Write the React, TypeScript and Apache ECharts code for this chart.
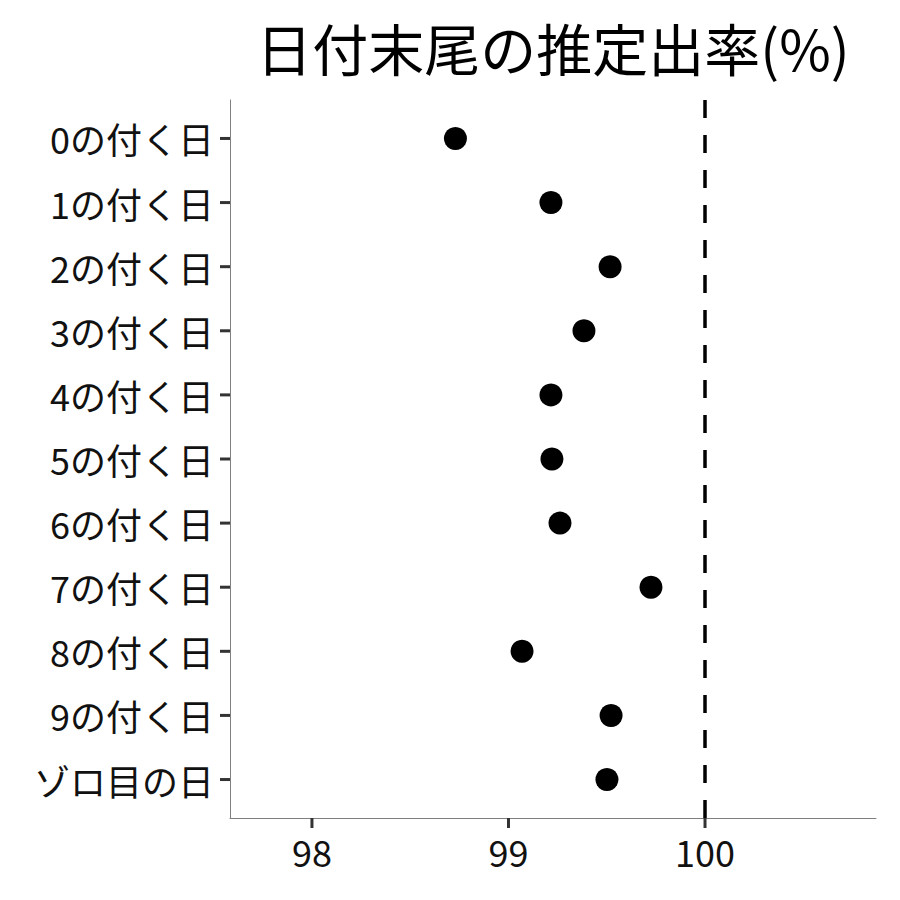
import React, { useEffect, useRef } from "react";
import * as echarts from "echarts";

const categories = [
  "0の付く日",
  "1の付く日",
  "2の付く日",
  "3の付く日",
  "4の付く日",
  "5の付く日",
  "6の付く日",
  "7の付く日",
  "8の付く日",
  "9の付く日",
  "ゾロ目の日",
];
const values = [98.73, 99.216, 99.517, 99.384, 99.216, 99.221, 99.262, 99.725, 99.069, 99.522, 99.501];
const xTicks = [98, 99, 100];
const refValue = 100;
const titleText = "日付末尾の推定出率(%)";

const FONT = '"Noto Sans CJK JP", "Noto Sans", sans-serif';
const X_MIN = 97.583;
const X_MAX = 100.87;
const TICK_LEN = 10;
const TICK_STYLE = { stroke: "#333333", lineWidth: 3 };

export default function App() {
  const ref = useRef<HTMLDivElement>(null);
  useEffect(() => {
    document.body.style.margin = "0";
    const chart = echarts.init(ref.current!, null, { renderer: "svg" });
    const n = categories.length;
    const Y_MIN = -0.6;
    const Y_MAX = n - 1 + 0.6;
    // position of category i, counted from the top of the panel
    const pos = (i: number) => n - 1 - i;
    const idx = categories.map((_, i) => pos(i));
    const titleEl = {
      id: "title",
      type: "text",
      x: 553,
      y: 46,
      style: {
        text: titleText,
        fontSize: 56,
        fontFamily: FONT,
        fill: "#000",
        textAlign: "center",
        textVerticalAlign: "middle",
      },
    };
    chart.setOption({
      animation: false,
      graphic: [titleEl],
      grid: { left: 230, right: 24, top: 100, bottom: 82 },
      xAxis: {
        type: "value",
        min: X_MIN,
        max: X_MAX,
        splitLine: { show: false },
        axisLine: { onZero: false, lineStyle: { color: "#808080" } },
        axisTick: { show: false },
        axisLabel: { customValues: xTicks, fontSize: 36, color: "#111", margin: 15, fontFamily: FONT },
      },
      yAxis: {
        type: "value",
        min: Y_MIN,
        max: Y_MAX,
        splitLine: { show: false },
        axisLine: { onZero: false, lineStyle: { color: "#808080" } },
        axisTick: { show: false },
        axisLabel: {
          customValues: idx,
          fontSize: 36,
          color: "#111",
          margin: 16,
          fontFamily: FONT,
          formatter: (v: number) => categories[n - 1 - Math.round(v)] ?? "",
        },
      },
      series: [
        {
          type: "scatter",
          data: values.map((v, i) => [v, pos(i)]),
          symbolSize: 23,
          itemStyle: { color: "#000", opacity: 1 },
          markLine: {
            silent: true,
            symbol: ["none", "none"],
            label: { show: false },
            lineStyle: { color: "#000", width: 3.5, type: [18, 17] },
            data: [{ xAxis: refValue }],
          },
        },
      ],
    });

    // tick marks, placed through the chart's own scales
    const tickEls: any[] = [];
    xTicks.forEach((v, k) => {
      const p = chart.convertToPixel({ gridIndex: 0 }, [v, Y_MIN]) as number[];
      tickEls.push({
        id: "xt" + k,
        type: "line",
        z: 10,
        shape: { x1: p[0], y1: p[1], x2: p[0], y2: p[1] + TICK_LEN },
        style: TICK_STYLE,
      });
    });
    idx.forEach((v, k) => {
      const p = chart.convertToPixel({ gridIndex: 0 }, [X_MIN, v]) as number[];
      tickEls.push({
        id: "yt" + k,
        type: "line",
        z: 10,
        shape: { x1: p[0] - TICK_LEN, y1: p[1], x2: p[0], y2: p[1] },
        style: TICK_STYLE,
      });
    });
    chart.setOption({ graphic: [titleEl, ...tickEls] });

    return () => chart.dispose();
  }, []);
  return <div ref={ref} style={{ width: 900, height: 900 }} />;
}
